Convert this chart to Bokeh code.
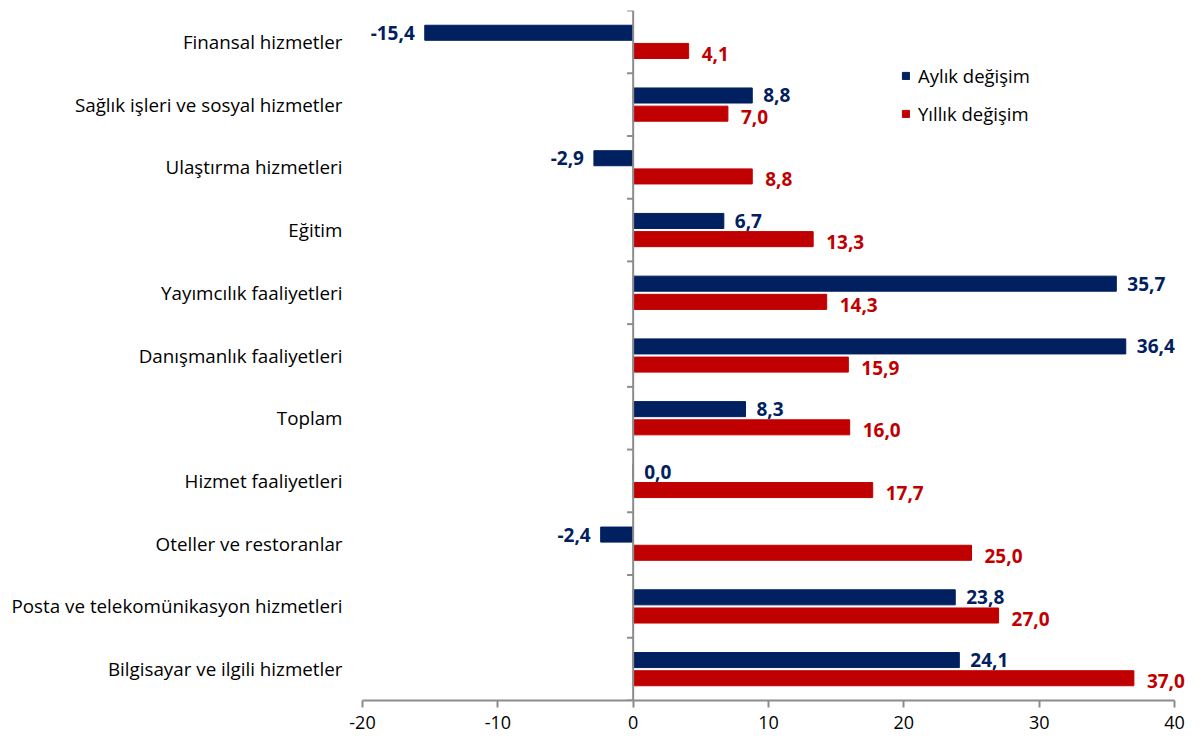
from bokeh.plotting import figure
from bokeh.models import ColumnDataSource, FactorRange, Span, Legend, LegendItem, LabelSet
from bokeh.transform import dodge
from bokeh.core.properties import value
from bokeh.embed import file_html
from bokeh.resources import INLINE

categories = [
    "Finansal hizmetler",
    "Sağlık işleri ve sosyal hizmetler",
    "Ulaştırma hizmetleri",
    "Eğitim",
    "Yayımcılık faaliyetleri",
    "Danışmanlık faaliyetleri",
    "Toplam",
    "Hizmet faaliyetleri",
    "Oteller ve restoranlar",
    "Posta ve telekomünikasyon hizmetleri",
    "Bilgisayar ve ilgili hizmetler",
]
aylik = [-15.4, 8.8, -2.9, 6.7, 35.7, 36.4, 8.3, 0.0, -2.4, 23.8, 24.1]
yillik = [4.1, 7.0, 8.8, 13.3, 14.3, 15.9, 16.0, 17.7, 25.0, 27.0, 37.0]
series_names = ["Aylık değişim", "Yıllık değişim"]
x_ticks = [-20, -10, 0, 10, 20, 30, 40]

BLUE = "#002060"
RED = "#C00000"
AXIS = "#8C8C8C"
FONT = "Open Sans"


def fmt(v):
    return f"{v:.1f}".replace(".", ",")


factors = list(reversed(categories))
src = ColumnDataSource(dict(cat=categories, aylik=aylik, yillik=yillik))

p = figure(
    width=1192, height=735,
    x_range=(-20, 41.33), y_range=FactorRange(factors=factors, range_padding=0),
    output_backend="svg", toolbar_location=None,
    min_border_left=362, min_border_right=0, min_border_top=10, min_border_bottom=35,
)
p.outline_line_color = None
p.xgrid.visible = False
p.ygrid.visible = False

off = 0.145
hb = p.hbar(y=dodge("cat", off, range=p.y_range), left=0, right="aylik", height=0.24,
            source=src, color=BLUE)
hr = p.hbar(y=dodge("cat", -off, range=p.y_range), left=0, right="yillik", height=0.24,
            source=src, color=RED)

# zero line with category boundary ticks
p.add_layout(Span(location=0, dimension="height", line_color=AXIS, line_width=2))
bounds = list(range(len(categories) + 1))
p.segment(x0=[-0.45] * len(bounds), x1=[0] * len(bounds), y0=bounds, y1=bounds,
          line_color=AXIS, line_width=2)

# value labels
pos_a = ColumnDataSource(dict(cat=[c for c, v in zip(categories, aylik) if v >= 0],
                              x=[v for v in aylik if v >= 0],
                              t=[fmt(v) for v in aylik if v >= 0]))
neg_a = ColumnDataSource(dict(cat=[c for c, v in zip(categories, aylik) if v < 0],
                              x=[v for v in aylik if v < 0],
                              t=[fmt(v) for v in aylik if v < 0]))
lab_y = ColumnDataSource(dict(cat=categories, x=yillik, t=[fmt(v) for v in yillik]))

common = dict(text_font=value(FONT), text_font_style="bold", text_font_size="19px",
              text_baseline="middle")
p.add_layout(LabelSet(x="x", y=dodge("cat", off, range=p.y_range), text="t", source=pos_a,
                      text_color=BLUE, text_align="left", x_offset=11, **common))
p.add_layout(LabelSet(x="x", y=dodge("cat", off, range=p.y_range), text="t", source=neg_a,
                      text_color=BLUE, text_align="right", x_offset=-10, **common))
p.add_layout(LabelSet(x="x", y=dodge("cat", -off, range=p.y_range), text="t", source=lab_y,
                      text_color=RED, text_align="left", x_offset=13, y_offset=-3, **common))

# axes
p.xaxis.ticker = x_ticks
p.xaxis.bounds = (x_ticks[0], x_ticks[-1])
p.xaxis.major_label_overrides = {t: str(t) for t in x_ticks}
p.xaxis.axis_line_color = AXIS
p.xaxis.axis_line_width = 2
p.xaxis.major_tick_line_color = AXIS
p.xaxis.major_tick_line_width = 2
p.xaxis.major_tick_in = 0
p.xaxis.major_tick_out = 7
p.xaxis.minor_tick_line_color = None
p.xaxis.major_label_text_font = FONT
p.xaxis.major_label_text_font_size = "18px"
p.xaxis.major_label_text_color = "black"
p.xaxis.major_label_standoff = 8

p.yaxis.axis_line_color = None
p.yaxis.major_tick_line_color = None
p.yaxis.minor_tick_line_color = None
p.yaxis.major_tick_out = 0
p.yaxis.major_tick_in = 0
p.yaxis.major_label_standoff = 20
p.yaxis.major_label_text_font = FONT
p.yaxis.major_label_text_font_size = "18.8px"
p.yaxis.major_label_text_color = "black"

legend = Legend(
    items=[LegendItem(label=series_names[0], renderers=[hb]),
           LegendItem(label=series_names[1], renderers=[hr])],
    location=(539, 574), orientation="vertical",
    glyph_width=9, glyph_height=9, label_height=20, spacing=13,
    label_standoff=8, padding=0, margin=0,
    border_line_color=None, background_fill_alpha=0,
    label_text_font=FONT, label_text_font_size="18.5px", label_text_color="black",
)
p.add_layout(legend, "center")

open("out.html", "w").write(file_html(p, INLINE))
